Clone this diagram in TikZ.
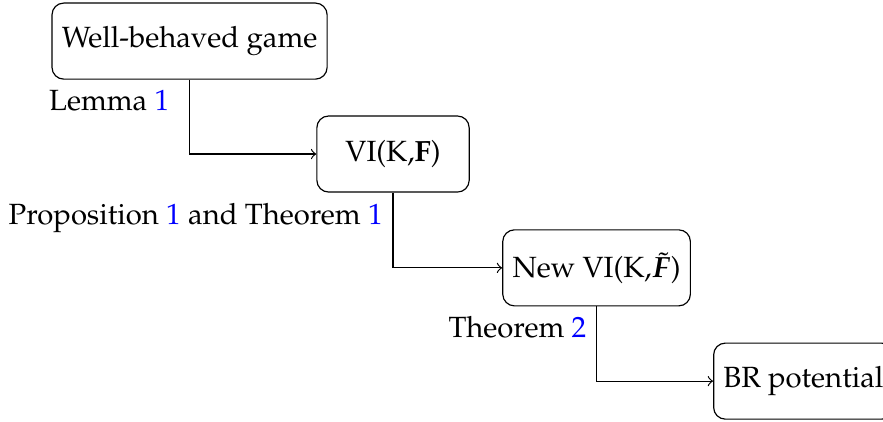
\documentclass[tikz,border=0pt]{standalone}
\usepackage[T1]{fontenc}
\usepackage{mathpazo}
\usepackage{amsmath}
\usepackage{bm}
\usepackage{xcolor}
\usepackage{tikz}

\tikzset{
	block/.style={draw, rounded corners, minimum height=0.914cm, minimum width=1.83cm},
	reflabel/.style={anchor=north east}
}

\begin{document}
\begin{tikzpicture}
	\useasboundingbox (0, 0) rectangle (10.611, -5.060);
	% Boxes:
	\node[block](B1) at (2.278, -0.494){Well-behaved game};
	\node[block](B2) at (4.723, -1.851){VI(K,$\mathbf{F}$)};
	\node[block](B3) at (7.169, -3.219){New VI(K,$\tilde{\bm{F}}$)};
	\node[block, anchor=west](B4) at (8.569, -4.580){BR potential};
	% Arrows and results that give them:
	\draw[->] (B1.south) |- (B2.west);
	\draw[->] (B2.south) |- (B3.west);
	\draw[->] (B3.south) |- (B4.west);
	\node[reflabel](L1) at ([xshift=-3.4pt]B1.south){Lemma \textcolor{blue}{1}};
	\node[reflabel](L2) at (B2.south){Proposition \textcolor{blue}{1} and Theorem \textcolor{blue}{1}};
	\node[reflabel](L3) at (B3.south){Theorem \textcolor{blue}{2}};
\end{tikzpicture}
\end{document}
